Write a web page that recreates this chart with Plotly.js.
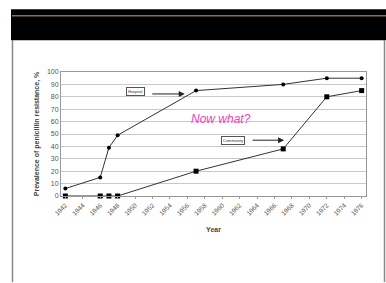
<!DOCTYPE html>
<html>
<head>
<meta charset="utf-8">
<script src="https://cdn.plot.ly/plotly-3.0.1.min.js"></script>
<style>html,body{margin:0;padding:0;background:#fff;}#chart{width:386px;height:283px;}</style>
</head>
<body>
<div id="chart"></div>
<script>
const hospitalYears = [1942, 1946, 1947, 1948, 1957, 1967, 1972, 1976];
const hospitalValues = [6, 15, 39, 49, 85, 90, 95, 95];
const communityYears = [1942, 1946, 1947, 1948, 1957, 1967, 1972, 1976];
const communityValues = [0, 0, 0, 0, 20, 38, 80, 85];
const xTickYears = [1942,1944,1946,1948,1950,1952,1954,1956,1958,1960,1962,1964,1966,1968,1970,1972,1974,1976];
const yTicks = [0,10,20,30,40,50,60,70,80,90,100];

const traces = [
  {x: hospitalYears, y: hospitalValues, type: 'scatter', mode: 'lines+markers', name: 'Hospital',
   line: {color: '#333', width: 1}, marker: {symbol: 'circle', size: 4, color: '#000'}, cliponaxis: false},
  {x: communityYears, y: communityValues, type: 'scatter', mode: 'lines+markers', name: 'Community',
   line: {color: '#333', width: 1}, marker: {symbol: 'square', size: 5, color: '#000'}, cliponaxis: false}
];

const layout = {
  width: 386, height: 283,
  margin: {l: 61, r: 20, t: 72, b: 86.5},
  paper_bgcolor: '#fff', plot_bgcolor: '#fff',
  showlegend: false,
  font: {family: 'Liberation Sans, Arial, sans-serif', color: '#444'},
  xaxis: {
    range: [1941.5, 1976.5], tickvals: xTickYears, ticktext: xTickYears.map(String),
    tickangle: -45, tickfont: {size: 6.5, color: '#555'},
    ticks: 'outside', ticklen: 2, tickcolor: '#999',
    showgrid: false, zeroline: false, showline: true, linecolor: '#999', linewidth: 1, mirror: true,
    title: {text: '<b>Year</b>', font: {size: 7, color: '#444'}, standoff: 11},
    automargin: false, fixedrange: true
  },
  yaxis: {
    range: [0, 100], tickvals: yTicks, tickfont: {size: 7, color: '#555'},
    ticks: '', showgrid: true, gridcolor: '#c8c8c8', gridwidth: 1,
    zeroline: false, showline: true, linecolor: '#999', linewidth: 1, mirror: true,
    title: {text: '<b>Prevalence of penicillin resistance, %</b>', font: {size: 7, color: '#444'}, standoff: 6},
    automargin: false, fixedrange: true
  },
  shapes: [
    {type: 'rect', xref: 'paper', yref: 'paper', x0: (11-61)/305, x1: (386-61)/305, y0: (196.5-40)/124.5, y1: (196.5-9)/124.5, fillcolor: '#000', line: {width: 0}},
    {type: 'line', xref: 'paper', yref: 'paper', x0: (12-61)/305, x1: (386-61)/305, y0: (196.5-15.5)/124.5, y1: (196.5-15.5)/124.5, line: {color: '#8a7444', width: 1.5}},
    {type: 'line', xref: 'paper', yref: 'paper', x0: (12.5-61)/305, x1: (12.5-61)/305, y0: (196.5-40)/124.5, y1: (196.5-283)/124.5, line: {color: '#888', width: 1.5}},
    {type: 'line', xref: 'paper', yref: 'paper', x0: (384.5-61)/305, x1: (384.5-61)/305, y0: (196.5-40)/124.5, y1: (196.5-283)/124.5, line: {color: '#888', width: 1.5}}
  ],
  annotations: [
    {x: 1955.7, y: 82.3, xref: 'x', yref: 'y', text: '', showarrow: true, arrowhead: 2, arrowsize: 1.2, arrowwidth: 1, arrowcolor: '#222', ax: -34, ay: 0},
    {x: 1967.1, y: 45, xref: 'x', yref: 'y', text: '', showarrow: true, arrowhead: 2, arrowsize: 1.2, arrowwidth: 1, arrowcolor: '#222', ax: -33, ay: 0},
    {x: 1950.1, y: 83.9, xref: 'x', yref: 'y', text: 'Hospital', showarrow: false, font: {size: 4, color: '#333'}, bordercolor: '#555', borderwidth: 1, borderpad: 1, bgcolor: '#fff'},
    {x: 1961.2, y: 44.6, xref: 'x', yref: 'y', text: 'Community', showarrow: false, font: {size: 4, color: '#333'}, bordercolor: '#555', borderwidth: 1, borderpad: 1, bgcolor: '#fff'},
    {x: 1959.9, y: 62.2, xref: 'x', yref: 'y', text: '<i>Now what?</i>', showarrow: false, font: {size: 12, color: '#ee3fbb', family: 'Liberation Sans, Arial, sans-serif'}}
  ]
};

Plotly.newPlot('chart', traces, layout, {displayModeBar: false, staticPlot: true});
</script>
</body>
</html>
